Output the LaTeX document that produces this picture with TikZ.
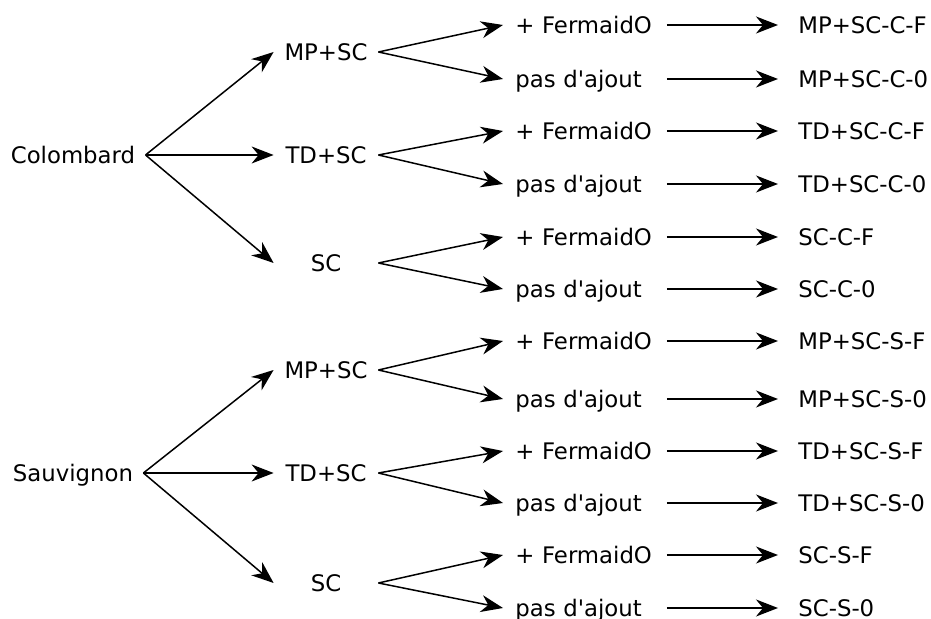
\documentclass[tikz,border=0pt]{standalone}
\usepackage{fontspec}
\setmainfont{DejaVu Sans}
\usetikzlibrary{arrows.meta}

\begin{document}
\begin{tikzpicture}[x=0.5pt, y=-0.5pt,
  every node/.style={font=\fontsize{11.4}{13}\selectfont, text height=8.3pt, text depth=0pt, inner ysep=2pt},
  cepage/.style={inner xsep=5pt},
  levure/.style={minimum width=52pt, inner xsep=0pt},
  ajout/.style={anchor=west, text width=69.5pt, align=left, inner xsep=6pt},
  essai/.style={anchor=west, inner xsep=10pt},
  fleche/.style={-{Stealth[length=11pt, width=8.5pt, inset=3.5pt]}, line width=0.75pt}]
  \useasboundingbox (0,0) rectangle (931,619);

  \node[cepage] (col) at (73,155) {Colombard};
  \node[cepage] (sau) at (73,473) {Sauvignon};

  \node[levure] (cmp) at (326,52) {MP+SC};
  \node[levure] (ctd) at (326,155) {TD+SC};
  \node[levure] (csc) at (326,263) {SC};
  \node[levure] (smp) at (326,370) {MP+SC};
  \node[levure] (std) at (326,473) {TD+SC};
  \node[levure] (ssc) at (326,583) {SC};

  \node[ajout] (cmpf) at (503,25) {+ FermaidO};
  \node[ajout] (cmpp) at (503,79) {pas d\textquotesingle ajout};
  \node[ajout] (ctdf) at (503,131) {+ FermaidO};
  \node[ajout] (ctdp) at (503,184) {pas d\textquotesingle ajout};
  \node[ajout] (cscf) at (503,237) {+ FermaidO};
  \node[ajout] (cscp) at (503,289) {pas d\textquotesingle ajout};
  \node[ajout] (smpf) at (503,341) {+ FermaidO};
  \node[ajout] (smpp) at (503,399) {pas d\textquotesingle ajout};
  \node[ajout] (stdf) at (503,451) {+ FermaidO};
  \node[ajout] (stdp) at (503,503) {pas d\textquotesingle ajout};
  \node[ajout] (sscf) at (503,555) {+ FermaidO};
  \node[ajout] (sscp) at (503,608) {pas d\textquotesingle ajout};

  \node[essai] (cmpfe) at (778,25) {MP+SC-C-F};
  \node[essai] (cmppe) at (778,79) {MP+SC-C-0};
  \node[essai] (ctdfe) at (778,131) {TD+SC-C-F};
  \node[essai] (ctdpe) at (778,184) {TD+SC-C-0};
  \node[essai] (cscfe) at (778,237) {SC-C-F};
  \node[essai] (cscpe) at (778,289) {SC-C-0};
  \node[essai] (smpfe) at (778,341) {MP+SC-S-F};
  \node[essai] (smppe) at (778,399) {MP+SC-S-0};
  \node[essai] (stdfe) at (778,451) {TD+SC-S-F};
  \node[essai] (stdpe) at (778,503) {TD+SC-S-0};
  \node[essai] (sscfe) at (778,555) {SC-S-F};
  \node[essai] (sscpe) at (778,608) {SC-S-0};

  \draw[fleche] (col.east) -- (cmp.west);
  \draw[fleche] (col.east) -- (ctd.west);
  \draw[fleche] (col.east) -- (csc.west);
  \draw[fleche] (sau.east) -- (smp.west);
  \draw[fleche] (sau.east) -- (std.west);
  \draw[fleche] (sau.east) -- (ssc.west);

  \draw[fleche] (cmp.east) -- (cmpf.west);
  \draw[fleche] (cmp.east) -- (cmpp.west);
  \draw[fleche] (ctd.east) -- (ctdf.west);
  \draw[fleche] (ctd.east) -- (ctdp.west);
  \draw[fleche] (csc.east) -- (cscf.west);
  \draw[fleche] (csc.east) -- (cscp.west);
  \draw[fleche] (smp.east) -- (smpf.west);
  \draw[fleche] (smp.east) -- (smpp.west);
  \draw[fleche] (std.east) -- (stdf.west);
  \draw[fleche] (std.east) -- (stdp.west);
  \draw[fleche] (ssc.east) -- (sscf.west);
  \draw[fleche] (ssc.east) -- (sscp.west);

  \draw[fleche] (cmpf.east) -- (cmpfe.west);
  \draw[fleche] (cmpp.east) -- (cmppe.west);
  \draw[fleche] (ctdf.east) -- (ctdfe.west);
  \draw[fleche] (ctdp.east) -- (ctdpe.west);
  \draw[fleche] (cscf.east) -- (cscfe.west);
  \draw[fleche] (cscp.east) -- (cscpe.west);
  \draw[fleche] (smpf.east) -- (smpfe.west);
  \draw[fleche] (smpp.east) -- (smppe.west);
  \draw[fleche] (stdf.east) -- (stdfe.west);
  \draw[fleche] (stdp.east) -- (stdpe.west);
  \draw[fleche] (sscf.east) -- (sscfe.west);
  \draw[fleche] (sscp.east) -- (sscpe.west);
\end{tikzpicture}
\end{document}
